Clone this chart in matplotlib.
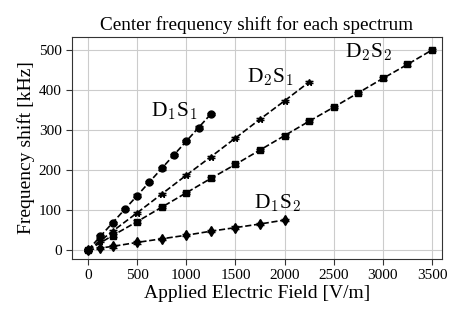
import matplotlib
matplotlib.use("Agg")
import matplotlib.pyplot as plt

plt.rcParams['font.family'] = ['Liberation Serif', 'DejaVu Serif']
plt.rcParams['mathtext.fontset'] = 'cm'

# Data
x_d1s1 = [0, 125, 250, 375, 500, 625, 750, 875, 1000, 1125, 1250]
y_d1s1 = [0, 34, 68, 102, 136, 170, 204, 238, 272, 306, 340]

x_d2s1 = [0, 125, 250, 500, 750, 1000, 1250, 1500, 1750, 2000, 2250]
y_d2s1 = [0, 23, 47, 93, 140, 187, 233, 280, 327, 373, 420]

x_d2s2 = [0, 250, 500, 750, 1000, 1250, 1500, 1750, 2000, 2250, 2500, 2750, 3000, 3250, 3500]
y_d2s2 = [0, 36, 71, 107, 143, 179, 214, 250, 286, 322, 357, 393, 429, 464, 500]

x_d1s2 = [0, 125, 250, 500, 750, 1000, 1250, 1500, 1750, 2000]
y_d1s2 = [0, 5, 9, 19, 28, 37, 47, 56, 65, 75]

labels = ["D$_1$S$_1$", "D$_2$S$_1$", "D$_2$S$_2$", "D$_1$S$_2$"]
label_pos = [(875, 347), (1851, 433), (2849, 495), (1923, 116)]

fig = plt.figure(figsize=(4.63, 3.24), dpi=100)
ax = fig.add_axes([0.1555, 0.2006, 0.7991, 0.6852])

series = [(x_d1s1, y_d1s1, 'o'), (x_d2s1, y_d2s1, '*'), (x_d2s2, y_d2s2, 's'), (x_d1s2, y_d1s2, 'd')]
for xs, ys, m in series:
    ax.errorbar(xs, ys, yerr=[3]*len(ys), fmt=m, ls='--', color='black', lw=1.2,
                ms=5, capsize=3, elinewidth=1, zorder=3)

for (t, (lx, ly)) in zip(labels, label_pos):
    ax.text(lx, ly, t, fontsize=15.5, ha='center', va='center')

ax.set_xlim(-163, 3601)
ax.set_ylim(-22.5, 532.5)
ax.set_xticks([0, 500, 1000, 1500, 2000, 2500, 3000, 3500])
ax.set_yticks([0, 100, 200, 300, 400, 500])
ax.grid(True, color='#cccccc', lw=0.8)
ax.set_axisbelow(True)
for s in ax.spines.values():
    s.set_color('#333333')
ax.tick_params(labelsize=11, length=4, color='#333333')
ax.set_xlabel("Applied Electric Field [V/m]", fontsize=14, labelpad=2)
ax.set_ylabel("Frequency shift [kHz]", fontsize=14, labelpad=3)
ax.set_title("Center frequency shift for each spectrum", fontsize=13.8, pad=5)

fig.savefig("out.png", dpi=100)
